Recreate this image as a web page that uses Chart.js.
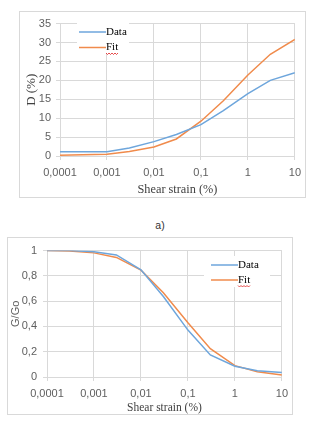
<!DOCTYPE html>
<html>
<head>
<meta charset="utf-8">
<script src="https://cdn.jsdelivr.net/npm/chart.js@4.4.1/dist/chart.umd.min.js"></script>
<style>
  html, body { margin: 0; padding: 0; background: #fff; }
  body { width: 322px; height: 428px; position: relative; overflow: hidden; }
  .box { position: absolute; box-sizing: border-box; border: 1px solid #d9d9d9; }
  .box canvas { position: absolute; left: 0; top: 0; }
  #lblA { position: absolute; left: 150px; top: 219px; width: 20px; text-align: center;
          font: 10.5px "Liberation Sans", Arial, sans-serif; color: #333; }
</style>
</head>
<body>
<div class="box" id="boxD" style="left:19px; top:11px; width:287px; height:187px;">
  <canvas id="chartD" width="287" height="186"></canvas>
</div>
<div id="lblA">a)</div>
<div class="box" id="boxG" style="left:7px; top:237px; width:286px; height:178px;">
  <canvas id="chartG" width="286" height="177"></canvas>
</div>
<script>
// Données
var strain = [0.0001, 0.0003, 0.001, 0.003, 0.01, 0.03, 0.1, 0.3, 1, 3, 10];
var dData  = [1.1, 1.1, 1.1, 2.1, 3.8, 5.7, 8.3, 12.0, 16.5, 20.0, 22.0];
var dFit   = [0.2, 0.3, 0.45, 1.2, 2.4, 4.5, 9.2, 14.6, 21.4, 26.9, 30.8];
var gData  = [1.0, 1.0, 0.99, 0.966, 0.848, 0.637, 0.371, 0.175, 0.085, 0.05, 0.036];
var gFit   = [1.0, 0.997, 0.982, 0.946, 0.845, 0.667, 0.43, 0.224, 0.09, 0.041, 0.015];

var xTicks      = [0.0001, 0.001, 0.01, 0.1, 1, 10];
var xTickLabels = ['0,0001', '0,001', '0,01', '0,1', '1', '10'];
var dTickLabels = ['0', '5', '10', '15', '20', '25', '30', '35'];
var gTickLabels = ['0', '0,2', '0,4', '0,6', '0,8', '1'];

var blue = '#6ea6dc';
var orange = '#f08b4c';
var gridColor = '#d9d9d9';
var tickColor = '#5f5f5f';

function pts(ys) {
    return strain.map(function (x, i) { return { x: x, y: ys[i] }; });
}

// Légende dessinée dans la zone du graphique (fond blanc comme Excel)
var insideLegend = {
    id: 'insideLegend',
    afterDraw: function (chart, args, opts) {
        var ctx = chart.ctx;
        ctx.save();
        ctx.fillStyle = '#fff';
        ctx.fillRect(opts.box[0], opts.box[1], opts.box[2], opts.box[3]);
        ctx.font = '11px "Liberation Serif", "Times New Roman", serif';
        ctx.textBaseline = 'middle';
        chart.data.datasets.forEach(function (ds, i) {
            var y = opts.y + i * opts.gap;
            ctx.strokeStyle = ds.borderColor;
            ctx.lineWidth = 1.5;
            ctx.beginPath();
            ctx.moveTo(opts.x, y);
            ctx.lineTo(opts.x + 27, y);
            ctx.stroke();
            ctx.fillStyle = '#000';
            ctx.fillText(ds.label, opts.x + 27, y);
            if (ds.label === 'Fit') {
                // soulignement rouge du correcteur
                var w = ctx.measureText(ds.label).width;
                ctx.strokeStyle = '#e02020';
                ctx.lineWidth = 0.8;
                ctx.beginPath();
                var x0 = opts.x + 27;
                for (var k = 0; k <= w; k += 1.5) {
                    var yy = y + 6 + ((k / 1.5) % 2 ? 1 : -0.5);
                    if (k === 0) ctx.moveTo(x0 + k, yy); else ctx.lineTo(x0 + k, yy);
                }
                ctx.stroke();
            }
        });
        ctx.restore();
    }
};

function makeChart(id, dSet, fSet, yMax, yStep, yLabels, cfg) {
    return new Chart(document.getElementById(id), {
        type: 'line',
        data: {
            datasets: [
                { label: 'Data', data: pts(dSet), borderColor: blue, borderWidth: 1.5,
                  pointRadius: 0, tension: 0, fill: false },
                { label: 'Fit', data: pts(fSet), borderColor: orange, borderWidth: 1.5,
                  pointRadius: 0, tension: 0, fill: false }
            ]
        },
        options: {
            responsive: false,
            animation: false,
            layout: { padding: { top: cfg.padTop, right: cfg.padRight, left: 0, bottom: 0 } },
            plugins: {
                legend: { display: false },
                tooltip: { enabled: false },
                insideLegend: cfg.legend
            },
            scales: {
                x: {
                    type: 'logarithmic',
                    min: 0.0001,
                    max: 10,
                    afterBuildTicks: function (axis) {
                        axis.ticks = xTicks.map(function (v) { return { value: v }; });
                    },
                    afterFit: function (axis) { axis.height = cfg.xHeight; },
                    grid: { color: gridColor, tickLength: 4 },
                    border: { color: gridColor },
                    ticks: {
                        color: tickColor, padding: cfg.xTickPad, maxRotation: 0, autoSkip: false,
                        font: { family: '"Liberation Sans", Arial, sans-serif', size: 11 },
                        callback: function (v, i) { return xTickLabels[i]; }
                    },
                    title: {
                        display: true, text: 'Shear strain (%)', color: '#404040',
                        font: { family: '"Liberation Serif", "Times New Roman", serif', size: cfg.xTitleSize, lineHeight: 1.2 },
                        padding: { top: 0, bottom: cfg.xTitlePad }
                    }
                },
                y: {
                    min: 0,
                    max: yMax,
                    ticks: {
                        stepSize: yStep, color: tickColor, padding: cfg.yTickPad,
                        font: { family: '"Liberation Sans", Arial, sans-serif', size: 11 },
                        callback: function (v, i) { return yLabels[i]; }
                    },
                    afterFit: function (axis) { axis.width = cfg.yWidth; },
                    grid: { color: gridColor, tickLength: 4 },
                    border: { color: gridColor },
                    title: {
                        display: true, text: cfg.yTitle, color: cfg.yTitleColor,
                        font: cfg.yTitleFont,
                        padding: { top: cfg.yTitlePad, bottom: 0 }
                    }
                }
            }
        },
        plugins: [insideLegend]
    });
}

makeChart('chartD', dData, dFit, 35, 5, dTickLabels, {
    padTop: 10, padRight: 11, xHeight: 42, yWidth: 40,
    xTickPad: 6, yTickPad: 5, xTitleSize: 12.3, xTitlePad: 1.3,
    yTitle: 'D (%)', yTitleColor: '#404040', yTitlePad: 3.6,
    yTitleFont: { family: '"Liberation Serif", "Times New Roman", serif', size: 13, lineHeight: 1.2 },
    legend: { x: 59, y: 20, gap: 15.5, box: [57, 10, 52, 31] }
});

makeChart('chartG', gData, gFit, 1, 0.2, gTickLabels, {
    padTop: 9, padRight: 9, xHeight: 38, yWidth: 39,
    xTickPad: 6, yTickPad: 6, xTitleSize: 11.5, xTitlePad: 0.5,
    yTitle: 'G/Go', yTitleColor: tickColor, yTitlePad: 1.4,
    yTitleFont: { family: '"Liberation Sans", Arial, sans-serif', size: 11, lineHeight: 1.2 },
    legend: { x: 203, y: 27, gap: 15, box: [196, 18, 66, 31] }
});
</script>
</body>
</html>
